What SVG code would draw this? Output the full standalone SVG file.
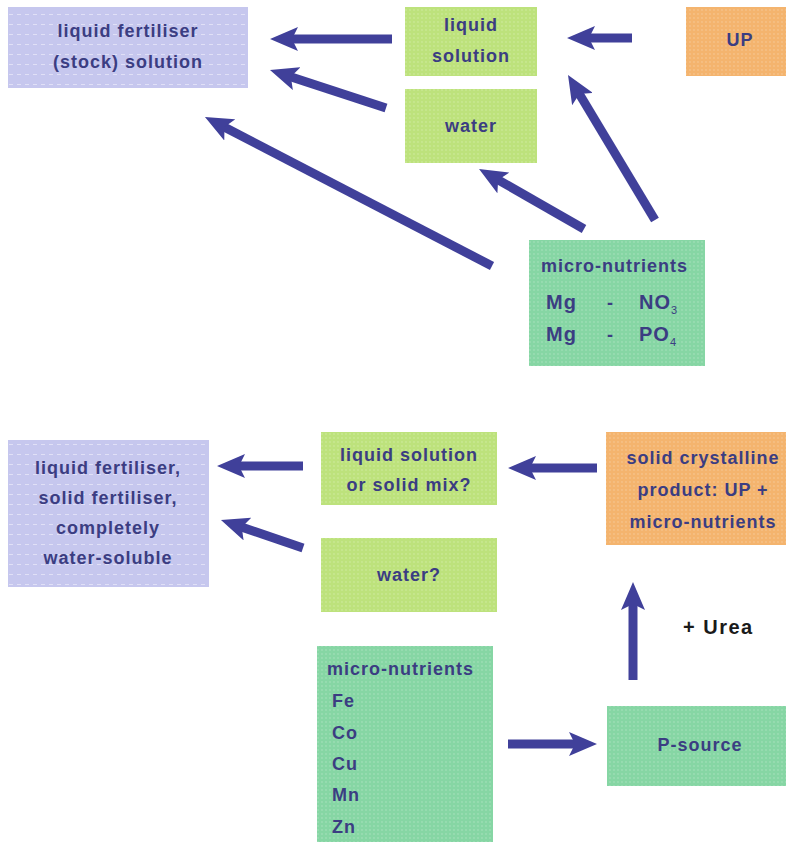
<svg xmlns="http://www.w3.org/2000/svg" width="786" height="842" viewBox="0 0 786 842">
  <defs>
    <pattern id="dots" width="4" height="4" patternUnits="userSpaceOnUse">
      <circle cx="2" cy="2" r="0.7" fill="#ffffff" fill-opacity="0.35"/>
    </pattern>
    <pattern id="dashes" width="8" height="10" patternUnits="userSpaceOnUse">
      <rect x="1" y="4" width="4" height="1" fill="#ffffff" fill-opacity="0.45"/>
    </pattern>
    <marker id="head" viewBox="0 0 28 24" refX="8" refY="12" markerWidth="28" markerHeight="24" markerUnits="userSpaceOnUse" orient="auto">
      <path d="M0,0 L28,12 L0,24 L6,12 Z" fill="#40409a"/>
    </marker>
  </defs>
  <style>
    .lav { fill: #c6c7ee; }
    .lime { fill: #bde27c; }
    .orange { fill: #f4b46e; }
    .teal { fill: #86d6a4; }
    .t { font-family: "Liberation Sans", Arial, sans-serif; font-size: 18px; font-weight: bold; fill: #3b3d82; letter-spacing: 1px; }
    .c { text-anchor: middle; }
    .big { font-size: 20px; }
    .sub { font-size: 11px; font-weight: normal; }
    .urea { font-family: "Liberation Sans", Arial, sans-serif; font-size: 20px; font-weight: bold; fill: #1a1a1a; letter-spacing: 1.5px; }
    .arrow { stroke: #40409a; stroke-width: 9; fill: none; marker-end: url(#head); }
  </style>
  <rect width="786" height="842" fill="#ffffff"/>

  <!-- upper scheme -->
  <g id="stock-solution">
    <rect class="lav" x="8" y="7" width="240" height="81"/>
    <rect fill="url(#dashes)" x="8" y="7" width="240" height="81"/>
    <text class="t c" x="128" y="37">liquid fertiliser</text>
    <text class="t c" x="128" y="68">(stock) solution</text>
  </g>
  <g id="liquid-solution">
    <rect class="lime" x="405" y="7" width="132" height="69"/>
    <rect fill="url(#dots)" x="405" y="7" width="132" height="69"/>
    <text class="t c" x="471" y="31">liquid</text>
    <text class="t c" x="471" y="62">solution</text>
  </g>
  <g id="water">
    <rect class="lime" x="405" y="89" width="132" height="74"/>
    <rect fill="url(#dots)" x="405" y="89" width="132" height="74"/>
    <text class="t c" x="471" y="132">water</text>
  </g>
  <g id="up">
    <rect class="orange" x="686" y="7" width="100" height="69"/>
    <rect fill="url(#dots)" x="686" y="7" width="100" height="69"/>
    <text class="t c" x="740" y="46">UP</text>
  </g>
  <g id="micro-mg">
    <rect class="teal" x="529" y="240" width="176" height="126"/>
    <rect fill="url(#dots)" x="529" y="240" width="176" height="126"/>
    <text class="t" x="541" y="272">micro-nutrients</text>
    <text class="t big" x="546" y="309">Mg</text>
    <text class="t" x="607" y="309">-</text>
    <text class="t big" x="639" y="309">NO<tspan class="sub" dy="5">3</tspan></text>
    <text class="t big" x="546" y="341">Mg</text>
    <text class="t" x="607" y="341">-</text>
    <text class="t big" x="639" y="341">PO<tspan class="sub" dy="5">4</tspan></text>
  </g>

  <!-- lower scheme -->
  <g id="final-fertiliser">
    <rect class="lav" x="8" y="440" width="201" height="147"/>
    <rect fill="url(#dashes)" x="8" y="440" width="201" height="147"/>
    <text class="t c" x="108" y="474">liquid fertiliser,</text>
    <text class="t c" x="108" y="504">solid fertiliser,</text>
    <text class="t c" x="108" y="534">completely</text>
    <text class="t c" x="108" y="564">water-soluble</text>
  </g>
  <g id="solution-or-mix">
    <rect class="lime" x="321" y="432" width="176" height="73"/>
    <rect fill="url(#dots)" x="321" y="432" width="176" height="73"/>
    <text class="t c" x="409" y="461">liquid solution</text>
    <text class="t c" x="409" y="491">or solid mix?</text>
  </g>
  <g id="water-q">
    <rect class="lime" x="321" y="538" width="176" height="74"/>
    <rect fill="url(#dots)" x="321" y="538" width="176" height="74"/>
    <text class="t c" x="409" y="581">water?</text>
  </g>
  <g id="crystalline">
    <rect class="orange" x="606" y="432" width="180" height="113"/>
    <rect fill="url(#dots)" x="606" y="432" width="180" height="113"/>
    <text class="t c" x="703" y="464">solid crystalline</text>
    <text class="t c" x="703" y="496">product: UP +</text>
    <text class="t c" x="703" y="528">micro-nutrients</text>
  </g>
  <g id="micro-metals">
    <rect class="teal" x="317" y="646" width="176" height="196"/>
    <rect fill="url(#dots)" x="317" y="646" width="176" height="196"/>
    <text class="t" x="327" y="675">micro-nutrients</text>
    <text class="t" x="332" y="707">Fe</text>
    <text class="t" x="332" y="739">Co</text>
    <text class="t" x="332" y="770">Cu</text>
    <text class="t" x="332" y="801">Mn</text>
    <text class="t" x="332" y="833">Zn</text>
  </g>
  <g id="p-source">
    <rect class="teal" x="607" y="706" width="179" height="80"/>
    <rect fill="url(#dots)" x="607" y="706" width="179" height="80"/>
    <text class="t c" x="700" y="751">P-source</text>
  </g>
  <g id="urea-label">
    <text class="urea" x="683" y="634">+ Urea</text>
  </g>

  <g id="connectors">
    <line class="arrow" x1="392" y1="39" x2="290" y2="39"/>
    <line class="arrow" x1="386" y1="108" x2="289" y2="76.2"/>
    <line class="arrow" x1="492" y1="266" x2="222.7" y2="126.2"/>
    <line class="arrow" x1="632" y1="38" x2="587" y2="38"/>
    <line class="arrow" x1="655" y1="220" x2="578.3" y2="92.2"/>
    <line class="arrow" x1="584" y1="229" x2="496.4" y2="178.9"/>
    <line class="arrow" x1="597" y1="468" x2="528" y2="468"/>
    <line class="arrow" x1="303" y1="466" x2="237" y2="466"/>
    <line class="arrow" x1="303" y1="548" x2="239.9" y2="526.5"/>
    <line class="arrow" x1="508" y1="744" x2="577" y2="744"/>
    <line class="arrow" x1="633" y1="680" x2="633" y2="602"/>
  </g>
</svg>
